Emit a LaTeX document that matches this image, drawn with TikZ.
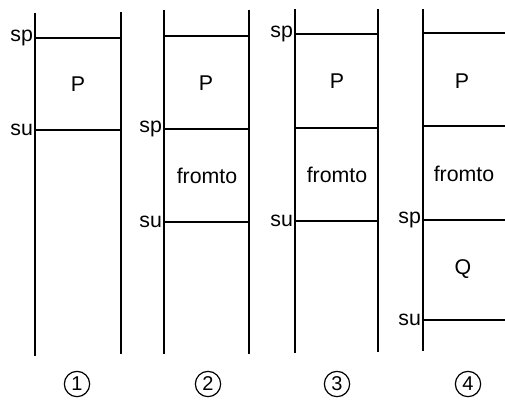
\documentclass[tikz,border=0pt]{standalone}
\usepackage{fontspec}
\setmainfont{Liberation Sans}
\begin{document}
\begin{tikzpicture}[x=0.75pt,y=-0.75pt,line width=1.2pt,
  lbl/.style={font=\fontsize{16}{19}\selectfont,inner sep=0pt},
  side/.style={lbl,anchor=east,xshift=-1pt},
  num/.style={circle,draw,line width=0.9pt,minimum size=19pt,inner sep=0pt,font=\fontsize{15}{17}\selectfont}]
\useasboundingbox (0,0) rectangle (505,400);
% panel 1
\coordinate (l1t) at (35,13); \coordinate (l1b) at (35,356);
\coordinate (r1t) at (121,12); \coordinate (r1b) at (121,354);
\coordinate (p1a) at (35,38); \coordinate (p1b) at (121,38);
\coordinate (p1c) at (35,130); \coordinate (p1d) at (121,130);
\draw (l1t) -- (l1b); \draw (r1t) -- (r1b);
\draw (p1a) -- (p1b); \draw (p1c) -- (p1d);
\node[side] (sp1) at (p1a) {sp};
\node[side] (su1) at (p1c) {su};
\node[lbl] (P1) at (78,84) {P};
\node[num] (n1) at (77,384) {1};
% panel 2
\coordinate (l2t) at (164,10); \coordinate (l2b) at (164,354);
\coordinate (r2t) at (249,10); \coordinate (r2b) at (249,354);
\coordinate (p2a) at (164,36); \coordinate (p2b) at (249,36);
\coordinate (p2c) at (164,129); \coordinate (p2d) at (249,129);
\coordinate (p2e) at (164,222); \coordinate (p2f) at (249,222);
\draw (l2t) -- (l2b); \draw (r2t) -- (r2b);
\draw (p2a) -- (p2b); \draw (p2c) -- (p2d); \draw (p2e) -- (p2f);
\node[side] (sp2) at (p2c) {sp};
\node[side] (su2) at (p2e) {su};
\node[lbl] (P2) at (206,83) {P};
\node[lbl] (F2) at (207,176) {fromto};
\node[num] (n2) at (208,384) {2};
% panel 3
\coordinate (l3t) at (295,9); \coordinate (l3b) at (295,353);
\coordinate (r3t) at (378,9); \coordinate (r3b) at (378,352);
\coordinate (p3a) at (295,34); \coordinate (p3b) at (378,34);
\coordinate (p3c) at (295,128); \coordinate (p3d) at (378,128);
\coordinate (p3e) at (295,221); \coordinate (p3f) at (378,221);
\draw (l3t) -- (l3b); \draw (r3t) -- (r3b);
\draw (p3a) -- (p3b); \draw (p3c) -- (p3d); \draw (p3e) -- (p3f);
\node[side] (sp3) at (p3a) {sp};
\node[side] (su3) at (p3e) {su};
\node[lbl] (P3) at (337,81) {P};
\node[lbl] (F3) at (337,175) {fromto};
\node[num] (n3) at (337,384) {3};
% panel 4
\coordinate (l4t) at (423,9); \coordinate (l4b) at (423,351);
\coordinate (p4a) at (423,33); \coordinate (p4b) at (505,33);
\coordinate (p4c) at (423,126); \coordinate (p4d) at (505,126);
\coordinate (p4e) at (423,220); \coordinate (p4f) at (505,220);
\coordinate (p4g) at (423,320); \coordinate (p4h) at (505,320);
\draw (l4t) -- (l4b);
\draw (p4a) -- (p4b); \draw (p4c) -- (p4d); \draw (p4e) -- (p4f); \draw (p4g) -- (p4h);
\node[side] (sp4) at (p4e) {sp};
\node[side] (su4) at (p4g) {su};
\node[lbl] (P4) at (462,81) {P};
\node[lbl] (F4) at (464,174) {fromto};
\node[lbl] (Q4) at (463,269) {Q};
\node[num] (n4) at (468,384) {4};
\end{tikzpicture}
\end{document}
